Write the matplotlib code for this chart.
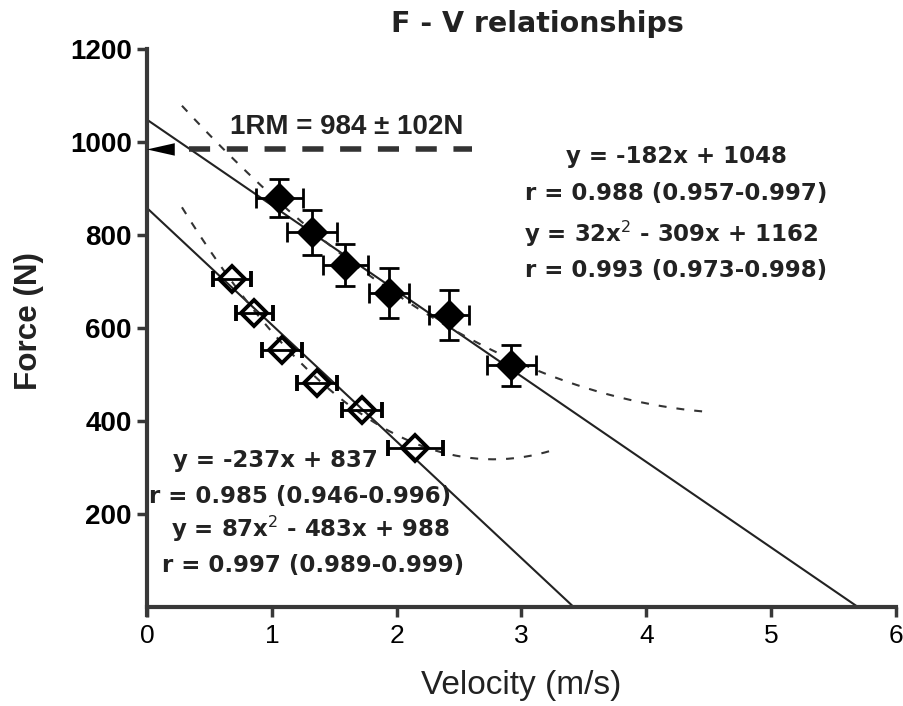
import matplotlib.pyplot as plt
import numpy as np

plt.rcParams['font.family'] = ['Liberation Sans', 'DejaVu Sans']

# filled diamonds (mean velocity, mean force, SD)
v_fill = [1.06, 1.32, 1.59, 1.94, 2.42, 2.92]
f_fill = [880, 806, 735, 675, 628, 520]
v_fill_err = [0.19, 0.20, 0.18, 0.16, 0.16, 0.20]
f_fill_err = [41, 48, 45, 54, 54, 44]

# open diamonds
v_open = [0.68, 0.86, 1.08, 1.36, 1.72, 2.15]
f_open = [705, 632, 553, 482, 424, 342]
v_open_err = [0.15, 0.15, 0.16, 0.16, 0.16, 0.22]

# fitted lines as drawn (intercept, slope) and quadratic fits
lin_fill = [1048, -184]
lin_open = [858, -251]
quad_fill = [32, -309, 1162]
quad_open = [87, -483, 988]
rm_mean = 984

eq_right = ['y = -182x + 1048', 'r = 0.988 (0.957-0.997)',
            'y = 32x$^2$ - 309x + 1162', 'r = 0.993 (0.973-0.998)']
eq_left = ['y = -237x + 837', 'r = 0.985 (0.946-0.996)',
           'y = 87x$^2$ - 483x + 988', 'r = 0.997 (0.989-0.999)']

fig = plt.figure(figsize=(9.04, 7.06), dpi=100)
ax = fig.add_axes([0.1626, 0.1402, 0.8285, 0.7904])

# linear fits down to zero force
x1 = np.linspace(0, -lin_fill[0] / lin_fill[1], 50)
ax.plot(x1, lin_fill[0] + lin_fill[1] * x1, color='#222222', lw=1.5, zorder=2)
x2 = np.linspace(0, -lin_open[0] / lin_open[1], 50)
ax.plot(x2, lin_open[0] + lin_open[1] * x2, color='#222222', lw=1.5, zorder=2)

# quadratic fits (dashed)
xq1 = np.linspace(0.28, 4.5, 200)
ax.plot(xq1, np.polyval(quad_fill, xq1), color='#333333', lw=1.5,
        dashes=(3.8, 4.8), zorder=2)
xq2 = np.linspace(0.28, 3.25, 200)
ax.plot(xq2, np.polyval(quad_open, xq2), color='#333333', lw=1.5,
        dashes=(3.8, 4.8), zorder=2)

# 1RM level
ax.plot([0.34, 2.6], [rm_mean, rm_mean], color='#333333', lw=4,
        dashes=(3.8, 3.0), zorder=2)
ax.annotate('', xy=(0.0, rm_mean), xytext=(0.22, rm_mean),
            arrowprops=dict(arrowstyle='-|>,head_length=2.0,head_width=0.45',
                            mutation_scale=10, color='black', lw=0,
                            shrinkA=0, shrinkB=0))
ax.text(1.6, 1017, '1RM = 984 \u00b1 102N', ha='center', va='baseline',
        fontsize=20, fontweight='bold', color='#222222')

# data points
ax.errorbar(v_fill, f_fill, xerr=v_fill_err, yerr=f_fill_err, fmt='D',
            color='black', ms=15, mfc='black', mec='black', ecolor='black',
            elinewidth=2, capsize=7, capthick=2, zorder=4)
ax.errorbar(v_open, f_open, xerr=v_open_err, fmt='D',
            color='black', ms=13, mfc='none', mec='black', mew=2.8,
            ecolor='black', elinewidth=2, capsize=6, capthick=2, zorder=4)

# equations
txt = dict(ha='center', va='baseline', fontsize=16.5, fontweight='bold',
           color='#222222', family=['DejaVu Sans'])
for s, xx, yy in zip(eq_right, [4.24, 4.24, 4.2, 4.24], [955, 875, 785, 710]):
    ax.text(xx, yy, s, **txt)
for s, xx, yy in zip(eq_left, [1.03, 1.23, 1.31, 1.33], [301, 224, 150, 75]):
    ax.text(xx, yy, s, **txt)

ax.set_xlim(0, 6)
ax.set_ylim(0, 1200)
ax.set_xticks(range(0, 7))
ax.set_yticks(range(200, 1201, 200))
for s in ['top', 'right']:
    ax.spines[s].set_visible(False)
for s in ['left', 'bottom']:
    ax.spines[s].set_linewidth(3)
    ax.spines[s].set_color('#383838')
ax.spines['left'].set_bounds(-18, 1200)
ax.tick_params(axis='both', direction='out', length=7, width=2.5,
               color='#383838')
ax.tick_params(axis='x', labelsize=19, pad=5)
ax.tick_params(axis='y', labelsize=20, pad=4)
for lab in ax.get_yticklabels():
    lab.set_fontweight('bold')
ax.set_xlabel('Velocity (m/s)', fontsize=24, color='#222222')
ax.xaxis.set_label_coords(0.5, -0.113)
ax.set_ylabel('Force (N)', fontsize=22.6, fontweight='bold', color='#222222')
ax.yaxis.set_label_coords(-0.138, 0.512)
ax.text(0.521, 1.045, 'F - V relationships', transform=ax.transAxes,
        ha='center', va='center', fontsize=20.5, fontweight='bold',
        family=['DejaVu Sans'], color='#222222')

fig.savefig('out.png', dpi=100)
